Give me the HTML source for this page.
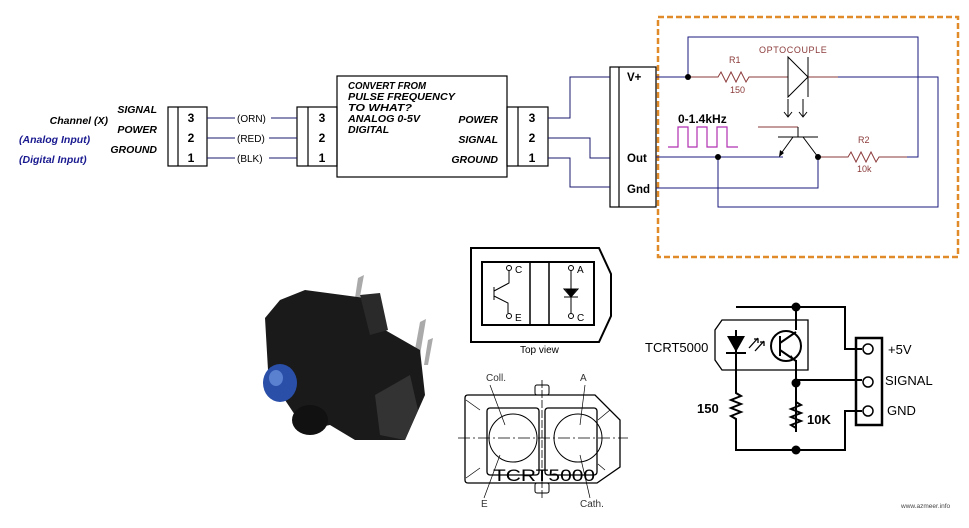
<!DOCTYPE html>
<html><head><meta charset="utf-8"><style>
html,body{margin:0;padding:0;background:#fff;}
svg{display:block;}
.i{font-family:"Liberation Sans",sans-serif;font-style:italic;font-weight:bold;}
.b{font-family:"Liberation Sans",sans-serif;font-weight:bold;}
.n{font-family:"Liberation Sans",sans-serif;}
</style></head><body>
<svg width="969" height="528" viewBox="0 0 969 528" xmlns="http://www.w3.org/2000/svg">
<rect width="969" height="528" fill="#fff"/>
<g class="i" font-size="10.5" text-anchor="end">
<text x="157" y="113" fill="#000">SIGNAL</text>
<text x="157" y="133" fill="#000">POWER</text>
<text x="157" y="153" fill="#000">GROUND</text>
<text x="108" y="124" fill="#000">Channel (X)</text>
</g>
<g class="i" font-size="10.5" fill="#1a1a90">
<text x="19" y="143">(Analog Input)</text>
<text x="19" y="163">(Digital Input)</text>
</g>
<g stroke="#000" stroke-width="1.2" fill="none">
<rect x="168" y="107" width="39" height="59"/><line x1="178" y1="107" x2="178" y2="166"/>
<rect x="297" y="107" width="40" height="59"/><line x1="308" y1="107" x2="308" y2="166"/>
<rect x="337" y="76" width="170" height="101"/>
<rect x="507" y="107" width="41" height="59"/><line x1="518" y1="107" x2="518" y2="166"/>
<rect x="610" y="67" width="46" height="140"/><line x1="619" y1="67" x2="619" y2="207"/>
</g>
<g class="b" font-size="12" text-anchor="middle">
<text x="191" y="122">3</text><text x="191" y="142">2</text><text x="191" y="162">1</text>
<text x="322" y="122">3</text><text x="322" y="142">2</text><text x="322" y="162">1</text>
<text x="532" y="122">3</text><text x="532" y="142">2</text><text x="532" y="162">1</text>
</g>
<g stroke="#1a1a6e" stroke-width="1" fill="none">
<path d="M207 118H297M207 138H297M207 158H297"/>
<path d="M548 118H570V77H610M548 138H590V158H610M548 158H570V187H610"/>
</g>
<g class="n" font-size="10" fill="#000">
<rect x="235" y="112" width="36" height="12" fill="#fff"/><text x="237" y="122">(ORN)</text>
<rect x="235" y="132" width="34" height="12" fill="#fff"/><text x="237" y="142">(RED)</text>
<rect x="235" y="152" width="34" height="12" fill="#fff"/><text x="237" y="162">(BLK)</text>
</g>
<g class="i" font-size="10.5" fill="#000">
<text x="348" y="89" textLength="78" lengthAdjust="spacingAndGlyphs">CONVERT FROM</text>
<text x="348" y="100" textLength="107" lengthAdjust="spacingAndGlyphs">PULSE FREQUENCY</text>
<text x="348" y="111" textLength="64" lengthAdjust="spacingAndGlyphs">TO WHAT?</text>
<text x="348" y="122" textLength="72" lengthAdjust="spacingAndGlyphs">ANALOG 0-5V</text>
<text x="348" y="133">DIGITAL</text>
<g text-anchor="end"><text x="498" y="123">POWER</text><text x="498" y="143">SIGNAL</text><text x="498" y="163">GROUND</text></g>
</g>
<g class="b" font-size="11.5"><text x="627" y="81">V+</text><text x="627" y="162">Out</text><text x="627" y="193">Gnd</text></g>
<rect x="658" y="17" width="300" height="240" fill="none" stroke="#e08a2a" stroke-width="2.5" stroke-dasharray="6,3"/>
<g stroke="#1a1a7e" stroke-width="1" fill="none">
<path d="M656 77H688V37H918V157H907"/>
<path d="M838 77H938V207H718V157"/>
<path d="M656 157H783"/>
<path d="M656 188H818V157"/>
</g>
<g stroke="#8b3a3a" stroke-width="1" fill="none">
<path d="M688 77H718l3-5 5 10 5-10 5 10 5-10 5 10 3-5H788"/>
<path d="M808 77H838"/>
<path d="M818 157H848l3-5 5 10 5-10 5 10 5-10 5 10 3-5H907"/>
<path d="M758 127H798"/>
</g>
<g stroke="#000" stroke-width="1" fill="none">
<path d="M788 57V97L808 77Z"/><path d="M808 57V97"/>
<path d="M788 99V117M784 112L788 117L792 112M803 99V117M799 112L803 117L807 112"/>
<path d="M798 127V137M778 137H818M793 137L780 155M803 137L818 157"/>
</g>
<path d="M779 157l1-7 4 3z" fill="#000"/>
<circle cx="688" cy="77" r="3" fill="#000"/><circle cx="718" cy="157" r="3" fill="#000"/><circle cx="818" cy="157" r="3" fill="#000"/>
<g class="n" font-size="9" fill="#8b3a3a">
<text x="759" y="53" letter-spacing="0.6">OPTOCOUPLE</text>
<text x="729" y="63">R1</text><text x="730" y="93">150</text>
<text x="858" y="143">R2</text><text x="857" y="172">10k</text>
</g>
<text class="b" x="678" y="123" font-size="12">0-1.4kHz</text>
<path d="M668 147H678V127H688V147H697V127H707V147H717V127H727V147H738" stroke="#b030b0" stroke-width="1.2" fill="none"/>
<g stroke="#000" fill="none">
<path d="M471 248H599L611 274V316L599 342H471Z" stroke-width="2"/>
<rect x="482" y="262" width="112" height="63" stroke-width="2"/>
<path d="M530 262V325M549 262V325" stroke-width="1.5"/>
<g stroke-width="1"><path d="M494 287V300M494 291L509 283V271M494 296L508 303V313M571 271V313M564 289H578L571 297ZM564 297H578"/>
<circle cx="509" cy="268" r="2.5"/><circle cx="509" cy="316" r="2.5"/><circle cx="571" cy="268" r="2.5"/><circle cx="571" cy="316" r="2.5"/></g>
</g>
<path d="M565 289H577L571 297Z" fill="#000"/>
<g class="n" font-size="10"><text x="515" y="273">C</text><text x="515" y="321">E</text><text x="577" y="273">A</text><text x="577" y="321">C</text>
<text x="520" y="353">Top view</text></g>
<g stroke="#000" fill="none" stroke-width="1">
<path d="M468 395H595L620 420V467L597 483H468Q465 483 465 480V398Q465 395 468 395Z" stroke-width="1.3"/>
<rect x="487" y="408" width="52" height="67" rx="3" stroke-width="1.3"/><rect x="545" y="408" width="52" height="67" rx="3" stroke-width="1.3"/>
<circle cx="513" cy="438" r="24"/><circle cx="578" cy="438" r="24"/>
<rect x="535" y="385" width="14" height="10" rx="2"/><rect x="535" y="483" width="14" height="10" rx="2"/>
<path d="M458 438H628" stroke-dasharray="12,3,2,3" stroke-width="0.8"/>
<path d="M542 380V500" stroke-width="0.8" stroke-dasharray="8,2"/>
<path d="M490 385L505 425M585 385L580 425M484 498L500 455M590 498L580 455M466 400L480 410M610 410L598 420M466 478L480 468M605 470L598 464" stroke-width="0.7"/>
</g>
<text class="n" x="493" y="481" font-size="17" textLength="102" lengthAdjust="spacingAndGlyphs">TCRT5000</text>
<g class="n" font-size="10" fill="#333"><text x="486" y="381">Coll.</text><text x="580" y="381">A</text><text x="481" y="507">E</text><text x="580" y="507">Cath.</text></g>
<g stroke="#000" stroke-width="2" fill="none">
<path d="M736 307H845V349H862M796 307V330"/>
<path d="M796 360V432M796 380H862M796 402l5 3-10 4 10 4-10 4 10 4-10 4 5 3"/>
<path d="M736 330V393l5 3-10 4 10 4-10 4 10 4-10 4 5 3V450H845V411H862"/>
<path d="M722 320H808V370H722L715 360V330Z" stroke-width="1.3"/>
<circle cx="786" cy="346" r="15"/>
<path d="M780 336V356M780 343L796 332M780 350L796 361"/>
<rect x="856" y="338" width="26" height="87" stroke-width="2.5"/>
</g>
<path d="M727 336H745L736 352Z" fill="#000"/><path d="M726 353H746" stroke="#000" stroke-width="2"/>
<path d="M749 348L758 338M755 351L764 341M754 339h4v4M760 342h4v4" stroke="#000" stroke-width="1.3" fill="none"/>
<path d="M790 358l5 2-4 -5z" fill="#000"/>
<g fill="#fff" stroke="#000" stroke-width="1.5"><circle cx="868" cy="349" r="5"/><circle cx="868" cy="382" r="5"/><circle cx="868" cy="411" r="5"/></g>
<g fill="#000"><circle cx="796" cy="307" r="4.5"/><circle cx="796" cy="383" r="4.5"/><circle cx="796" cy="450" r="4.5"/></g>
<g class="n" font-size="13"><text x="645" y="352">TCRT5000</text><text x="888" y="354">+5V</text><text x="885" y="385">SIGNAL</text><text x="887" y="415">GND</text></g>
<g class="b" font-size="13"><text x="697" y="413">150</text><text x="807" y="424">10K</text></g>
<text class="n" x="901" y="508" font-size="6.5" fill="#444">www.azmeer.info</text>
<g>
<path d="M358 278L364 275L356 318L352 318Z" fill="#aaa"/>
<path d="M420 322L426 319L420 355L414 355Z" fill="#aaa"/>
<path d="M428 340L433 338L428 365L424 365Z" fill="#aaa"/>
<path d="M280 300L305 290L380 300L385 330L420 350L425 395L405 440L355 440L330 425L305 430L285 400L268 370L265 318Z" fill="#1a1a1a"/>
<path d="M360 295L380 293L388 330L370 335Z" fill="#2a2a2a"/>
<path d="M375 395L410 375L418 410L405 440L380 435Z" fill="#333"/>
<ellipse cx="280" cy="383" rx="17" ry="19" fill="#2a4fa8"/>
<ellipse cx="276" cy="378" rx="7" ry="8" fill="#5a80d0"/>
<ellipse cx="310" cy="420" rx="18" ry="15" fill="#111"/>
</g>
</svg>
</body></html>
